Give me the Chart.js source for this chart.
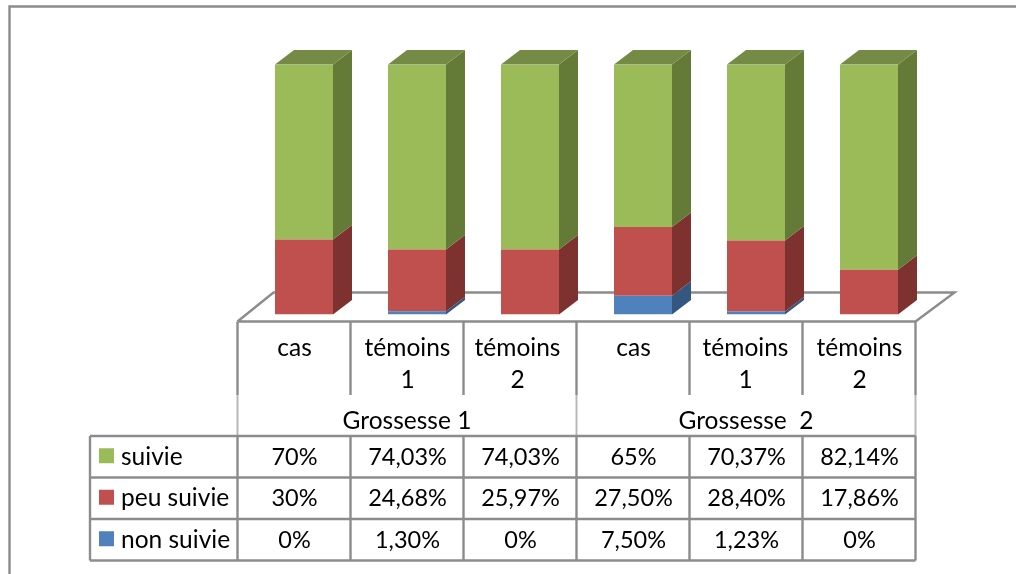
<!DOCTYPE html>
<html>
<head>
<meta charset="utf-8">
<style>html,body{margin:0;padding:0;background:#fff}canvas{display:block}</style>
<script src="https://cdn.jsdelivr.net/npm/chart.js@4"></script>
</head>
<body>
<div style="width:1016px;height:574px;position:relative"><canvas id="c" width="1016" height="574"></canvas></div>
<script>
const categories = ["cas", "témoins 1", "témoins 2", "cas", "témoins 1", "témoins 2"];
const categoryLines = [["cas"], ["témoins", "1"], ["témoins", "2"], ["cas"], ["témoins", "1"], ["témoins", "2"]];
const groups = ["Grossesse 1", "Grossesse  2"];
const suivie = [70, 74.03, 74.03, 65, 70.37, 82.14];
const peuSuivie = [30, 24.68, 25.97, 27.5, 28.4, 17.86];
const nonSuivie = [0, 1.3, 0, 7.5, 1.23, 0];

const GRID = "#8c8c8c", FONT = "24.5px Lato, sans-serif", NUMFONT = "23.5px Lato, sans-serif";
const LW = 2.4, DX = 19, DY = -14.5;
const fmt = v => (Number.isInteger(v) ? String(v) : v.toFixed(2).replace(".", ",")) + "%";
const rows = [
  {label: "suivie", values: suivie, color: "#9BBB59"},
  {label: "peu suivie", values: peuSuivie, color: "#C0504D"},
  {label: "non suivie", values: nonSuivie, color: "#4F81BD"}
];
const sideColors = ["#34567F", "#7D3230", "#647A37"];
const topColor = "#758B45";

function line(ctx, pts, color, w) {
  ctx.beginPath();
  pts.forEach((p, i) => i ? ctx.lineTo(p[0], p[1]) : ctx.moveTo(p[0], p[1]));
  ctx.strokeStyle = color; ctx.lineWidth = w; ctx.stroke();
}
function poly(ctx, pts, color) {
  ctx.beginPath();
  pts.forEach((p, i) => i ? ctx.lineTo(p[0], p[1]) : ctx.moveTo(p[0], p[1]));
  ctx.closePath(); ctx.fillStyle = color; ctx.fill();
}

const scene = {
  id: "scene",
  beforeDatasetsDraw(chart) {
    const ctx = chart.ctx;
    // outer frame: left and top only
    line(ctx, [[9.5, 574], [9.5, 6.5], [1016, 6.5]], GRID, LW);
    // floor
    const a = chart.chartArea;
    const L = a.left - 10, R = a.right - 10, fy = a.bottom + 7, by = fy - 29;
    line(ctx, [[L, fy], [L + 36, by], [R + 39, by], [R, fy], [L, fy]], GRID, LW);
  },
  afterDatasetsDraw(chart) {
    const ctx = chart.ctx;
    // side and top faces of each bar segment
    chart.data.datasets.forEach((ds, di) => {
      chart.getDatasetMeta(di).data.forEach(el => {
        const p = el.getProps(["x", "y", "base", "width"]);
        const r = p.x + p.width / 2, l = p.x - p.width / 2;
        if (p.base - p.y < 0.3) return;
        poly(ctx, [[r, p.y], [r + DX, p.y + DY], [r + DX, p.base + DY], [r, p.base]], sideColors[di]);
        if (di === chart.data.datasets.length - 1) {
          poly(ctx, [[l, p.y], [l + DX, p.y + DY], [r + DX, p.y + DY], [r, p.y]], topColor);
        }
      });
    });
    drawTable(chart);
  }
};

function drawTable(chart) {
  const ctx = chart.ctx, a = chart.chartArea, xs = chart.scales.x;
  const n = categories.length, w = (a.right - a.left) / n, L = a.left - 10;
  const colX = i => L + i * w;
  const center = i => xs.getPixelForValue(i) - 9.5;
  const top = a.bottom + 7, headEnd = 395, rowY = [436, 477.5, 519, 560.5];
  const legendL = 90;

  // header verticals
  for (let i = 0; i <= n; i++) {
    const end = (i === 0 || i === n || i === 3) ? rowY[0] : headEnd;
    line(ctx, [[colX(i), top], [colX(i), headEnd]], GRID, LW);
    if (end !== headEnd) line(ctx, [[colX(i), headEnd], [colX(i), end]], "#b8b8b8", 2);
  }
  // data grid
  rowY.forEach(y => line(ctx, [[legendL, y], [colX(n), y]], GRID, LW));
  for (let i = 0; i <= n; i++) line(ctx, [[colX(i), rowY[0]], [colX(i), rowY[3]]], GRID, LW);
  line(ctx, [[legendL, rowY[0]], [legendL, rowY[3]]], GRID, LW);

  ctx.fillStyle = "#000"; ctx.font = FONT; ctx.textBaseline = "alphabetic"; ctx.textAlign = "center";
  categoryLines.forEach((ls, i) => ls.forEach((t, j) =>
    ctx.fillText(t, center(i) - (i === 2 ? 3 : i === 4 ? 1 : 0), 356 + j * 32)));
  groups.forEach((g, i) => ctx.fillText(g, colX(i * 3) + 1.5 * w, 429));

  rows.forEach((row, r) => {
    const cy = (rowY[r] + rowY[r + 1]) / 2;
    ctx.fillStyle = row.color;
    ctx.fillRect(99, cy - 8.5, 15, 15);
    ctx.fillStyle = "#000"; ctx.textAlign = "left"; ctx.font = FONT;
    ctx.fillText(row.label, 121, cy + 8);
    ctx.textAlign = "center"; ctx.font = NUMFONT;
    row.values.forEach((v, i) => ctx.fillText(fmt(v), center(i), cy + 8));
    ctx.font = FONT;
  });
}

new Chart(document.getElementById("c"), {
  type: "bar",
  data: {
    labels: categories,
    datasets: [
      {label: "non suivie", data: nonSuivie, backgroundColor: "#4F81BD"},
      {label: "peu suivie", data: peuSuivie, backgroundColor: "#C0504D"},
      {label: "suivie", data: suivie, backgroundColor: "#9BBB59"}
    ]
  },
  options: {
    responsive: false,
    animation: false,
    layout: {padding: {left: 247.5, right: 90.5, top: 64.5, bottom: 259.5}},
    plugins: {legend: {display: false}, tooltip: {enabled: false}},
    datasets: {bar: {categoryPercentage: 1, barPercentage: 58 / 113, borderWidth: 0}},
    scales: {
      x: {stacked: true, display: false, offset: true},
      y: {stacked: true, display: false, min: 0, max: 100}
    }
  },
  plugins: [scene]
});
</script>
</body>
</html>
